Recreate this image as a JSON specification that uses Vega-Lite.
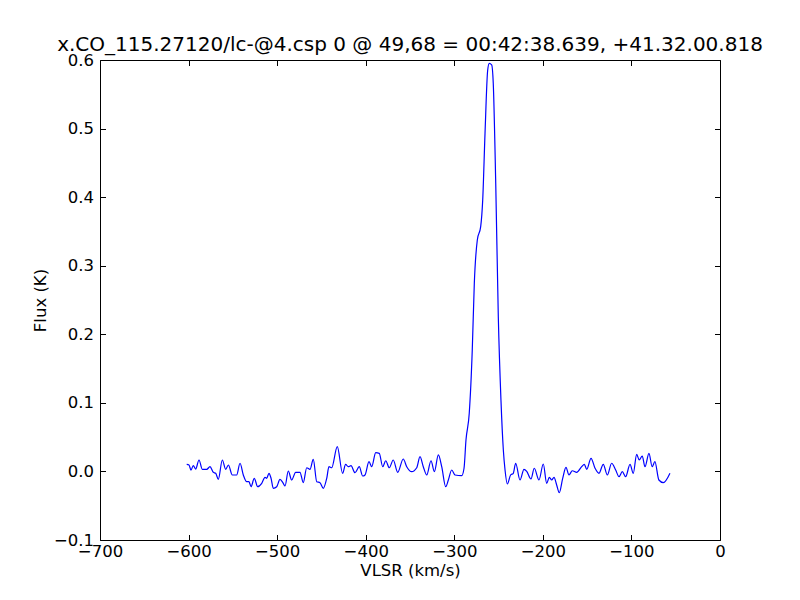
{
  "$schema": "https://vega.github.io/schema/vega-lite/v6.json",
  "width": 620,
  "height": 480,
  "autosize": {"type": "none"},
  "padding": {"left": 100, "top": 60, "right": 80, "bottom": 60},
  "background": "white",
  "title": {"text": "x.CO_115.27120/lc-@4.csp 0 @ 49,68 = 00:42:38.639, +41.32.00.818", "font": "DejaVu Sans", "fontSize": 20, "fontWeight": "normal", "color": "black", "anchor": "middle", "offset": -3},
  "config": {
    "view": {"stroke": "black", "strokeWidth": 1},
    "axis": {"grid": false, "domain": false, "tickColor": "black", "tickSize": -5.5, "labelFlush": false, "labelOverlap": false, "labelFont": "DejaVu Sans", "labelFontSize": 16.5, "labelColor": "black", "titleFont": "DejaVu Sans", "titleFontSize": 16.5, "titleFontWeight": "normal", "titleColor": "black"}
  },
  "data": {"values": [
    {"v": -602.1, "f": 0.0104}, {"v": -599.5, "f": 0.0094}, {"v": -597.3, "f": 0.002}, {"v": -594.7, "f": 0.0084},
    {"v": -592.0, "f": 0.0035}, {"v": -588.2, "f": 0.0167}, {"v": -584.5, "f": 0.0031}, {"v": -579.5, "f": 0.0031},
    {"v": -575.8, "f": 0.0069}, {"v": -572.1, "f": -0.0013}, {"v": -569.4, "f": -0.0027}, {"v": -566.4, "f": -0.0115},
    {"v": -561.9, "f": 0.0167}, {"v": -558.1, "f": 0.0031}, {"v": -555.1, "f": 0.0094}, {"v": -550.6, "f": -0.0052},
    {"v": -545.7, "f": -0.0052}, {"v": -541.9, "f": 0.0119}, {"v": -538.2, "f": -0.0052}, {"v": -534.4, "f": -0.015},
    {"v": -531.8, "f": -0.015}, {"v": -529.5, "f": -0.0223}, {"v": -525.8, "f": -0.010}, {"v": -522.0, "f": -0.0223},
    {"v": -517.4, "f": -0.0173}, {"v": -513.7, "f": -0.0086}, {"v": -511.8, "f": -0.010}, {"v": -509.2, "f": -0.0027},
    {"v": -506.9, "f": -0.010}, {"v": -504.3, "f": -0.0246}, {"v": -500.5, "f": -0.0223}, {"v": -496.8, "f": -0.0115},
    {"v": -493.1, "f": -0.0173}, {"v": -491.1, "f": -0.0212}, {"v": -487.4, "f": 0.0006}, {"v": -483.6, "f": -0.0125},
    {"v": -479.1, "f": -0.0013}, {"v": -474.2, "f": -0.0013}, {"v": -470.5, "f": -0.0164}, {"v": -466.6, "f": 0.0054},
    {"v": -462.9, "f": 0.0031}, {"v": -459.2, "f": 0.0177}, {"v": -455.3, "f": -0.015}, {"v": -451.6, "f": -0.0164},
    {"v": -447.9, "f": -0.0246}, {"v": -444.0, "f": -0.010}, {"v": -441.5, "f": 0.0069}, {"v": -438.4, "f": 0.0054},
    {"v": -432.1, "f": 0.0361}, {"v": -426.1, "f": -0.0027}, {"v": -422.7, "f": 0.0104}, {"v": -419.7, "f": 0.0069},
    {"v": -416.6, "f": 0.0084}, {"v": -412.1, "f": -0.0018}, {"v": -407.3, "f": 0.0069}, {"v": -403.4, "f": -0.0067},
    {"v": -400.8, "f": -0.0052}, {"v": -396.3, "f": 0.0142}, {"v": -393.2, "f": 0.0069}, {"v": -388.7, "f": 0.0273},
    {"v": -384.7, "f": 0.0264}, {"v": -380.8, "f": 0.0069}, {"v": -377.4, "f": 0.0156}, {"v": -373.4, "f": 0.0054},
    {"v": -368.9, "f": 0.0167}, {"v": -363.9, "f": -0.0013}, {"v": -357.6, "f": 0.0181}, {"v": -353.7, "f": 0.0069},
    {"v": -348.1, "f": -0.0004}, {"v": -342.4, "f": 0.0054}, {"v": -338.7, "f": 0.0215}, {"v": -335.0, "f": 0.0069},
    {"v": -331.1, "f": -0.0052}, {"v": -326.3, "f": 0.0156}, {"v": -322.5, "f": -0.0004}, {"v": -318.0, "f": 0.024},
    {"v": -314.2, "f": 0.0069}, {"v": -309.7, "f": -0.0223}, {"v": -306.7, "f": -0.0125}, {"v": -302.9, "f": 0.0021},
    {"v": -299.2, "f": -0.0052}, {"v": -291.6, "f": -0.0062}, {"v": -289.0, "f": 0.0046}, {"v": -286.8, "f": 0.0458},
    {"v": -283.1, "f": 0.0848}, {"v": -279.7, "f": 0.177}, {"v": -277.4, "f": 0.274}, {"v": -274.0, "f": 0.3375},
    {"v": -270.2, "f": 0.357}, {"v": -267.9, "f": 0.396}, {"v": -265.3, "f": 0.493}, {"v": -262.3, "f": 0.585},
    {"v": -260.5, "f": 0.595}, {"v": -257.8, "f": 0.593}, {"v": -256.0, "f": 0.566}, {"v": -253.2, "f": 0.420},
    {"v": -250.3, "f": 0.2257}, {"v": -247.3, "f": 0.104}, {"v": -244.6, "f": 0.031}, {"v": -242.7, "f": 0.002},
    {"v": -240.1, "f": -0.0183}, {"v": -236.4, "f": -0.0052}, {"v": -233.4, "f": -0.0027}, {"v": -230.7, "f": 0.0119},
    {"v": -225.8, "f": -0.0125}, {"v": -221.3, "f": 0.0031}, {"v": -218.2, "f": 0.0}, {"v": -213.4, "f": -0.011},
    {"v": -209.7, "f": 0.0046}, {"v": -204.4, "f": -0.0125}, {"v": -199.5, "f": 0.0108}, {"v": -195.7, "f": -0.0173},
    {"v": -192.7, "f": -0.0086}, {"v": -190.0, "f": -0.0125}, {"v": -187.4, "f": -0.0086}, {"v": -184.4, "f": -0.0198},
    {"v": -181.5, "f": -0.031}, {"v": -177.6, "f": -0.010}, {"v": -173.9, "f": 0.006}, {"v": -170.5, "f": -0.0052},
    {"v": -166.8, "f": 0.001}, {"v": -161.8, "f": -0.0013}, {"v": -156.2, "f": 0.0069}, {"v": -153.2, "f": 0.0104},
    {"v": -150.5, "f": 0.0031}, {"v": -145.6, "f": 0.0191}, {"v": -141.1, "f": 0.0046}, {"v": -136.6, "f": -0.0027},
    {"v": -131.8, "f": 0.0104}, {"v": -127.2, "f": -0.0052}, {"v": -122.3, "f": 0.0119}, {"v": -117.8, "f": 0.0021},
    {"v": -114.0, "f": -0.0077}, {"v": -110.3, "f": -0.0004}, {"v": -106.5, "f": -0.0077}, {"v": -101.6, "f": 0.0104},
    {"v": -97.9, "f": -0.0027}, {"v": -94.1, "f": 0.025}, {"v": -91.2, "f": 0.0167}, {"v": -87.8, "f": 0.0225},
    {"v": -84.7, "f": 0.0069}, {"v": -80.2, "f": 0.0264}, {"v": -76.6, "f": 0.0069}, {"v": -73.5, "f": 0.0142},
    {"v": -69.0, "f": -0.0125}, {"v": -64.0, "f": -0.0164}, {"v": -56.5, "f": -0.0027}
  ]},
  "layer": [
    {
      "mark": {"type": "line", "color": "#0000ff", "strokeWidth": 1.2, "interpolate": "monotone"},
      "encoding": {
        "x": {"field": "v", "type": "quantitative", "scale": {"domain": [-700, 0], "nice": false, "zero": false},
          "axis": {"orient": "bottom", "title": "VLSR (km/s)", "values": [-700, -600, -500, -400, -300, -200, -100, 0], "format": "d", "labelPadding": 9, "titlePadding": 2}},
        "y": {"field": "f", "type": "quantitative", "scale": {"domain": [-0.1, 0.6], "nice": false, "zero": false},
          "axis": {"orient": "left", "title": "Flux (K)", "values": [-0.1, 0, 0.1, 0.2, 0.3, 0.4, 0.5, 0.6], "format": ".1f", "labelPadding": 12, "titlePadding": 5}}
      }
    },
    {
      "mark": {"type": "line", "opacity": 0},
      "encoding": {
        "x": {"field": "v", "type": "quantitative", "scale": {"domain": [-700, 0], "nice": false, "zero": false},
          "axis": {"orient": "top", "title": null, "labels": false, "values": [-700, -600, -500, -400, -300, -200, -100, 0]}},
        "y": {"field": "f", "type": "quantitative", "scale": {"domain": [-0.1, 0.6], "nice": false, "zero": false},
          "axis": {"orient": "right", "title": null, "labels": false, "values": [-0.1, 0, 0.1, 0.2, 0.3, 0.4, 0.5, 0.6]}}
      }
    }
  ],
  "resolve": {"axis": {"x": "independent", "y": "independent"}}
}
